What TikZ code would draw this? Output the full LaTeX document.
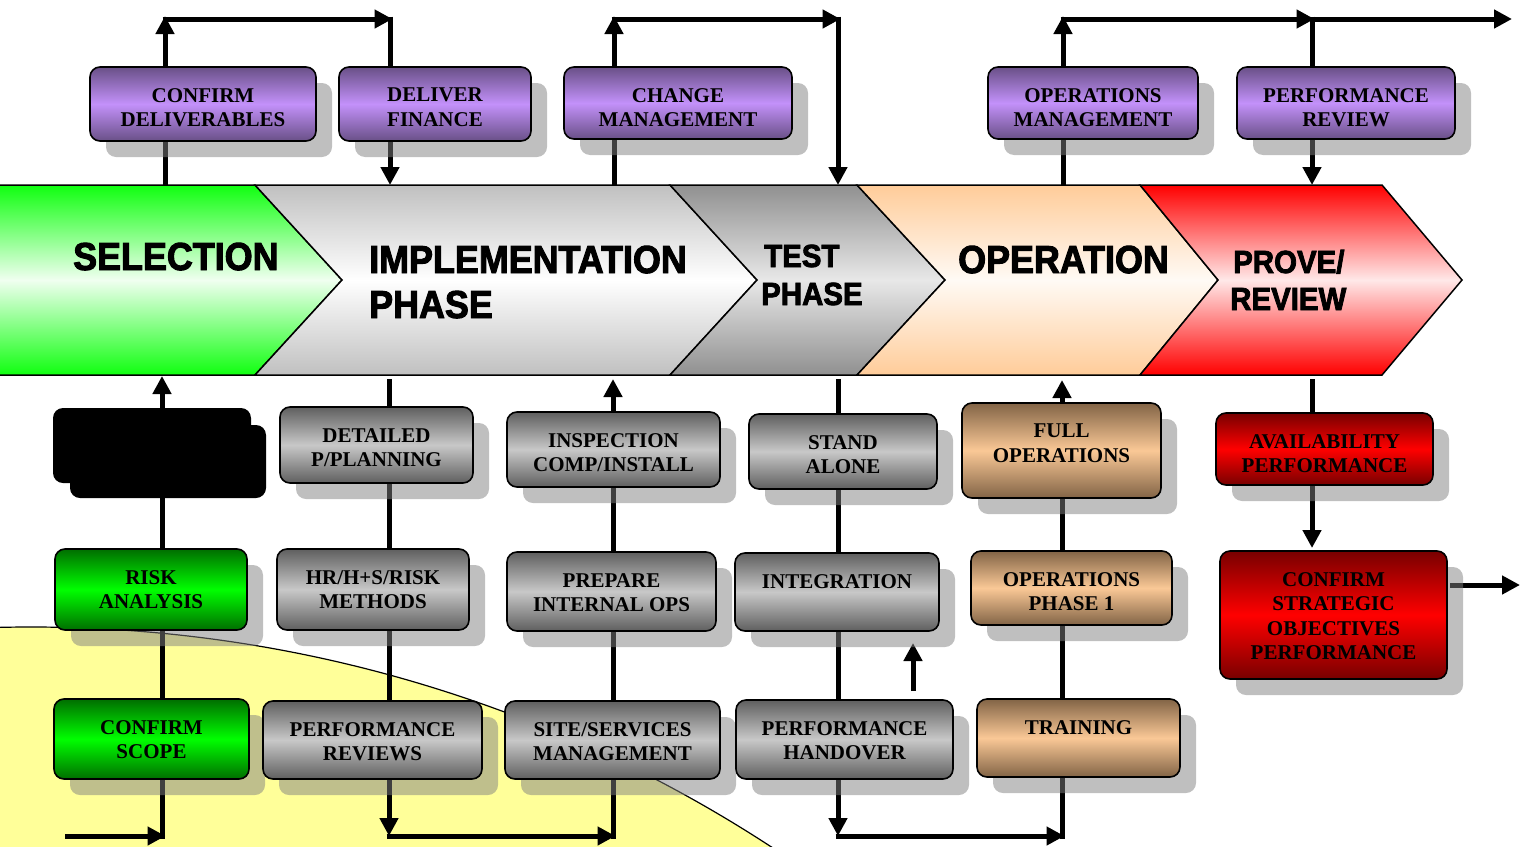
\documentclass[tikz,border=0pt]{standalone}
\usepackage{fontspec}
\setmainfont{Liberation Serif}
\newfontfamily\chevfont{Liberation Sans}[FakeStretch=0.92,FakeBold=2.5]
\usetikzlibrary{arrows.meta,fit}
\definecolor{pe}{RGB}{105,80,135}
\definecolor{pm}{RGB}{195,145,250}
\definecolor{ge}{RGB}{95,95,95}
\definecolor{gm}{RGB}{200,200,200}
\definecolor{gre}{RGB}{0,110,0}
\definecolor{grm}{RGB}{0,255,0}
\definecolor{te}{RGB}{130,100,70}
\definecolor{tm}{RGB}{250,200,150}
\definecolor{re}{RGB}{120,0,0}
\definecolor{rm}{RGB}{255,0,0}
\definecolor{yel}{RGB}{255,255,153}
\tikzset{
  arr/.style={line width=5pt,-{Triangle[length=18pt,width=18pt]}},
  ln/.style={line width=5pt},
  shd/.style={fill=black!50,fill opacity=0.5},
  purp/.style={top color=pe,bottom color=pe,middle color=pm},
  grey/.style={top color=ge,bottom color=ge,middle color=gm},
  grn/.style={top color=gre,bottom color=gre,middle color=grm},
  tan/.style={top color=te,bottom color=te,middle color=tm},
  redb/.style={top color=re,bottom color=re,middle color=rm},
  txt/.style={font=\fontsize{21}{24.5}\selectfont\bfseries,align=center,inner sep=0pt},
  chev/.style={font=\chevfont\bfseries\fontsize{39}{39}\selectfont,inner sep=0pt,anchor=base west},
  chevs/.style={font=\chevfont\bfseries\fontsize{32}{32}\selectfont,inner sep=0pt,anchor=base west},
}
\newcommand\bx[7]{%
  \fill[shd,rounded corners=10pt] ({#2+16},{#3+16}) rectangle ({#4+16},{#5+16});
  \shadedraw[#6,rounded corners=10pt,line width=1.6pt] (#2,#3) rectangle (#4,#5);
  \node[fit={(#2,#3) (#4,#5)},inner sep=0pt] (#1) {};
  \node[txt,anchor=north] (#1t) at ({(#2+#4)/2},{#3+21}) {#7};
}
\begin{document}
\begin{tikzpicture}[x=1pt,y=-1pt]
\useasboundingbox (0,0) rectangle (1528,846);
% yellow region
\begin{scope}
\clip (0,0) rectangle (1528,846);
\draw[fill=yel,line width=1.2pt] (31,1982) circle[radius=1355pt];
\end{scope}
% chevron band
\shade[top color={rgb,255:red,16;green,255;blue,16},bottom color={rgb,255:red,16;green,255;blue,16},middle color={rgb,255:red,240;green,255;blue,240}]
  (0,185) -- (255,185) -- (342,280) -- (255,375) -- (0,375) -- cycle;
\draw[line width=1.5pt] (0,185) -- (255,185) -- (342,280) -- (255,375) -- (0,375);
\shadedraw[top color={rgb,255:red,192;green,192;blue,192},bottom color={rgb,255:red,192;green,192;blue,192},middle color=white,line width=1.5pt]
  (255,185) -- (670,185) -- (757,280) -- (670,375) -- (255,375) -- (342,280) -- cycle;
\shadedraw[top color={rgb,255:red,144;green,144;blue,144},bottom color={rgb,255:red,144;green,144;blue,144},middle color={rgb,255:red,232;green,232;blue,232},line width=1.5pt]
  (670,185) -- (857,185) -- (945,280) -- (857,375) -- (670,375) -- (757,280) -- cycle;
\shadedraw[top color={rgb,255:red,255;green,204;blue,153},bottom color={rgb,255:red,255;green,204;blue,153},middle color={rgb,255:red,255;green,250;blue,245},line width=1.5pt]
  (857,185) -- (1140,185) -- (1218,280) -- (1140,375) -- (857,375) -- (945,280) -- cycle;
\shadedraw[top color=red,bottom color=red,middle color={rgb,255:red,255;green,232;blue,232},line width=1.5pt]
  (1140,185) -- (1382,185) -- (1462,280) -- (1382,375) -- (1140,375) -- (1218,280) -- cycle;
\node[chev] (selT) at (73,270) {SELECTION};
\node[chev] (impT) at (369,273) {IMPLEMENTATION};
\node[chev] (impT2) at (369,318) {PHASE};
\node[chevs] (tesT) at (764,267) {TEST};
\node[chevs] (tesT2) at (761,305) {PHASE};
\node[chev] (opeT) at (958,273) {OPERATION};
\node[chevs] (proT) at (1233,273) {PROVE/};
\node[chevs] (proT2) at (1230,310) {REVIEW};
% connector points
\coordinate (a1) at (165,185); \coordinate (a2) at (165,16);
\coordinate (a3) at (162.5,19); \coordinate (a4) at (392.5,19);
\coordinate (a5) at (390,16.5); \coordinate (a6) at (390,185);
\coordinate (b1) at (614,185); \coordinate (b2) at (614,16);
\coordinate (b3) at (611.5,19); \coordinate (b4) at (840.5,19);
\coordinate (b5) at (838,16.5); \coordinate (b6) at (838,185);
\coordinate (c1) at (1063,185); \coordinate (c2) at (1063,16);
\coordinate (c3) at (1060.5,19); \coordinate (c4) at (1314.5,19);
\coordinate (c5) at (1312,16.5); \coordinate (c6) at (1312,185);
\coordinate (c7) at (1312,19); \coordinate (c8) at (1512,19);
\coordinate (d1) at (65,836); \coordinate (d2) at (165.5,836);
\coordinate (d3) at (162,838.5); \coordinate (d4) at (162,376);
\coordinate (e1) at (389,379); \coordinate (e2) at (389,836);
\coordinate (e3) at (386.5,836); \coordinate (e4) at (615.5,836);
\coordinate (e5) at (613,838.5); \coordinate (e6) at (613,379);
\coordinate (f1) at (838,379); \coordinate (f2) at (838,836);
\coordinate (f3) at (835.5,836); \coordinate (f4) at (1064.5,836);
\coordinate (f5) at (1062,838.5); \coordinate (f6) at (1062,380);
\coordinate (g1) at (913,691); \coordinate (g2) at (913,643);
\coordinate (h1) at (1312,379); \coordinate (h2) at (1312,548);
\coordinate (h3) at (1450,585); \coordinate (h4) at (1520,585);
% connectors
\draw[arr] (a1) -- (a2); \draw[arr] (a3) -- (a4); \draw[arr] (a5) -- (a6);
\draw[arr] (b1) -- (b2); \draw[arr] (b3) -- (b4); \draw[arr] (b5) -- (b6);
\draw[arr] (c1) -- (c2); \draw[arr] (c3) -- (c4); \draw[arr] (c5) -- (c6); \draw[arr] (c7) -- (c8);
\draw[arr] (d1) -- (d2); \draw[arr] (d3) -- (d4);
\draw[arr] (e1) -- (e2); \draw[arr] (e3) -- (e4); \draw[arr] (e5) -- (e6);
\draw[arr] (f1) -- (f2); \draw[arr] (f3) -- (f4); \draw[arr] (f5) -- (f6);
\draw[arr] (g1) -- (g2);
\draw[arr] (h1) -- (h2); \draw[arr] (h3) -- (h4);
% top boxes
\bx{cdel}{90}{67}{316}{141}{purp}{CONFIRM\\DELIVERABLES}
\bx{dfin}{339}{67}{531}{141}{purp}{DELIVER\\FINANCE}
\bx{chm}{564}{67}{792}{139}{purp}{CHANGE\\MANAGEMENT}
\bx{opm}{988}{67}{1198}{139}{purp}{OPERATIONS\\MANAGEMENT}
\bx{perr}{1237}{67}{1455}{139}{purp}{PERFORMANCE\\REVIEW}
% black box
\fill[black,rounded corners=10pt] (70,425) rectangle (266,498);
\fill[black,rounded corners=10pt] (53,408) rectangle (251,483);
\node[fit={(53,408) (266,498)},inner sep=0pt] (blk) {};
% column 1
\bx{risk}{55}{549}{247}{630}{grn}{RISK\\ANALYSIS}
\bx{csc}{54}{699}{249}{779}{grn}{CONFIRM\\SCOPE}
% column 2
\bx{dpp}{280}{407}{473}{483}{grey}{DETAILED\\P/PLANNING}
\bx{hrm}{277}{549}{469}{630}{grey}{HR/H+S/RISK\\METHODS}
\bx{prv}{263}{701}{482}{779}{grey}{PERFORMANCE\\REVIEWS}
% column 3
\bx{ins}{507}{412}{720}{487}{grey}{INSPECTION\\COMP/INSTALL}
\bx{pio}{507}{552}{716}{631}{grey}{PREPARE\\INTERNAL OPS}
\bx{ssm}{505}{701}{720}{779}{grey}{SITE/SERVICES\\MANAGEMENT}
% column 4
\bx{sta}{749}{414}{937}{489}{grey}{STAND\\ALONE}
\bx{itg}{735}{553}{939}{631}{grey}{INTEGRATION}
\bx{phd}{736}{700}{953}{779}{grey}{PERFORMANCE\\HANDOVER}
% column 5
\bx{fop}{962}{403}{1161}{498}{tan}{FULL\\OPERATIONS}
\bx{op1}{971}{551}{1172}{625}{tan}{OPERATIONS\\PHASE 1}
\bx{trn}{977}{699}{1180}{777}{tan}{TRAINING}
% column 6
\bx{avp}{1216}{413}{1433}{485}{redb}{AVAILABILITY\\PERFORMANCE}
\bx{cso}{1220}{551}{1447}{679}{redb}{CONFIRM\\STRATEGIC\\OBJECTIVES\\PERFORMANCE}
\end{tikzpicture}
\end{document}
